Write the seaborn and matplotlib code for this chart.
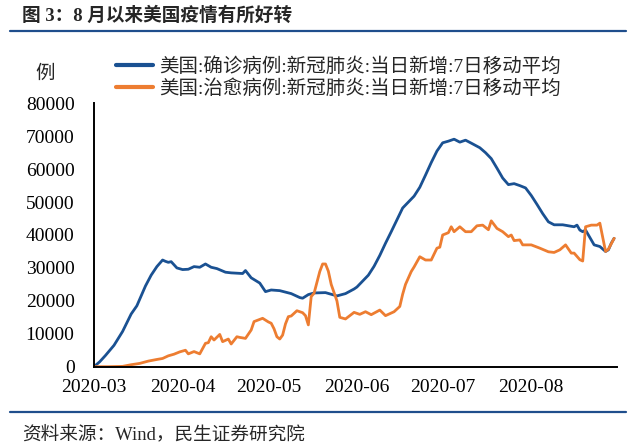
import pandas as pd
import matplotlib
matplotlib.use("Agg")
import matplotlib.pyplot as plt
import matplotlib.dates as mdates
from matplotlib.lines import Line2D
import seaborn as sns

sns.set_style("white")
plt.rcParams["font.family"] = ["Liberation Serif", "Noto Sans CJK SC"]

darkBlue = "#1a5192"
orange = "#ed7d31"
ruleBlue = "#1f4e8c"

confirmed_label = "美国:确诊病例:新冠肺炎:当日新增:7日移动平均"
recovered_label = "美国:治愈病例:新冠肺炎:当日新增:7日移动平均"

confirmed_dates = [
    "03-01", "03-03", "03-05", "03-08", "03-11", "03-14", "03-16", "03-19", "03-21", "03-23",
    "03-25", "03-26", "03-27", "03-28", "03-30", "04-01", "04-03", "04-05", "04-07", "04-09",
    "04-11", "04-13", "04-16", "04-18", "04-20", "04-22", "04-23", "04-25", "04-28", "04-30",
    "05-02", "05-05", "05-09", "05-10", "05-12", "05-13", "05-15", "05-17", "05-21", "05-25",
    "05-28", "05-31", "06-01", "06-03", "06-05", "06-07", "06-09", "06-11", "06-13", "06-15",
    "06-17", "06-19", "06-21", "06-23", "06-25", "06-27", "06-29", "07-01", "07-03", "07-05",
    "07-07", "07-09", "07-11", "07-14", "07-16", "07-18", "07-20", "07-22", "07-24", "07-26",
    "07-28", "07-30", "08-01", "08-03", "08-05", "08-07", "08-09", "08-12", "08-14", "08-16",
    "08-17", "08-18", "08-19", "08-20", "08-22", "08-23", "08-25", "08-27", "08-28", "08-29",
    "08-30",
]
confirmed = [
    0, 1500, 3400, 6500, 10700, 16000, 18500, 24500, 27800, 30400,
    32400, 32000, 31700, 31900, 30000, 29500, 29600, 30400, 30200, 31200,
    30200, 29800, 28700, 28500, 28400, 28300, 29200, 27000, 25400, 22800,
    23300, 23100, 22200, 21800, 21000, 20800, 21900, 22400, 22500, 21500,
    22200, 23600, 24200, 26000, 27800, 30500, 33800, 37500, 41000, 44600,
    48200, 50000, 51800, 54500, 58200, 62000, 65500, 68000, 68500, 69100,
    68200, 68800, 67900, 66500, 65000, 63200, 60300, 57300, 55300, 55600,
    55000, 54300, 52000, 49300, 46500, 44000, 43100, 43100, 42800, 42500,
    43000, 41500, 41000, 41500, 38500, 37000, 36500, 35000, 35500, 37500,
    39000,
]

recovered_dates = [
    "03-01", "03-06", "03-11", "03-14", "03-17", "03-20", "03-23", "03-25", "03-27", "03-29",
    "03-31", "04-02", "04-03", "04-05", "04-07", "04-08", "04-09", "04-10", "04-11", "04-12",
    "04-14", "04-15", "04-17", "04-18", "04-20", "04-21", "04-23", "04-25", "04-26", "04-29",
    "05-01", "05-02", "05-03", "05-04", "05-05", "05-06", "05-07", "05-08", "05-09", "05-11",
    "05-13", "05-14", "05-15", "05-16", "05-17", "05-19", "05-20", "05-21", "05-22", "05-23",
    "05-25", "05-26", "05-28", "05-31", "06-02", "06-04", "06-06", "06-09", "06-11", "06-14",
    "06-16", "06-17", "06-18", "06-20", "06-21", "06-23", "06-25", "06-27", "06-29", "06-30",
    "07-01", "07-03", "07-04", "07-05", "07-07", "07-09", "07-11", "07-13", "07-15", "07-17",
    "07-18", "07-20", "07-22", "07-24", "07-25", "07-26", "07-28", "07-29", "08-01", "08-04",
    "08-07", "08-09", "08-11", "08-13", "08-15", "08-16", "08-18", "08-19", "08-20", "08-22",
    "08-24", "08-25", "08-27", "08-28", "08-30",
]
recovered = [
    0, 0, 100, 600, 1000, 1700, 2200, 2500, 3300, 3800,
    4500, 5000, 3900, 4600, 3900, 5500, 7100, 7300, 9100, 8100,
    9800, 7600, 8400, 6900, 9100, 8900, 8600, 11150, 13700, 14700,
    13600, 13200, 11500, 9100, 8400, 9600, 13000, 15200, 15400, 17000,
    16400, 15500, 12700, 21300, 22300, 28900, 31200, 31200, 29000, 25000,
    20000, 15000, 14500, 16500, 15900, 16700, 15800, 17200, 15500, 16700,
    18300, 22000, 25000, 28900, 30300, 33400, 32400, 32400, 36000, 36300,
    40000, 40700, 42500, 41000, 42500, 41000, 41000, 42800, 43000, 41600,
    44300, 42000, 41000, 39500, 40000, 38300, 38500, 37000, 37000, 36000,
    34900, 34700, 35500, 37000, 34500, 34500, 32500, 32100, 42500, 43000,
    43000, 43600, 35000, 35700, 39000,
]

df = pd.concat([
    pd.DataFrame({"date": pd.to_datetime(["2020-" + d for d in confirmed_dates]),
                  "value": confirmed, "series": confirmed_label}),
    pd.DataFrame({"date": pd.to_datetime(["2020-" + d for d in recovered_dates]),
                  "value": recovered, "series": recovered_label}),
])

fig = plt.figure(figsize=(6.36, 4.46), dpi=100)
ax = fig.add_axes([94 / 636, 1 - 366.7 / 446, (617 - 94) / 636, (366.7 - 103.3) / 446])

sns.lineplot(data=df, x="date", y="value", hue="series",
             palette={confirmed_label: darkBlue, recovered_label: orange},
             linewidth=2.0, ax=ax, legend=True)

ax.set_xlim(pd.Timestamp("2020-03-01"), pd.Timestamp("2020-08-31"))
ax.set_ylim(0, 80000)
ax.set_yticks(range(0, 80001, 10000))
ax.xaxis.set_major_locator(mdates.MonthLocator())
ax.xaxis.set_major_formatter(mdates.DateFormatter("%Y-%m"))
ax.set_xlabel("")
ax.set_ylabel("")

for side in ["top", "right"]:
    ax.spines[side].set_visible(False)
for side in ["left", "bottom"]:
    ax.spines[side].set_color("black")
    ax.spines[side].set_linewidth(1.4)
ax.tick_params(axis="both", direction="out", length=4, width=1.2, color="black",
               labelsize=14, labelcolor="black")
ax.tick_params(axis="y", pad=10)
ax.tick_params(axis="x", pad=5)
ax.grid(False)

handles, labels = ax.get_legend_handles_labels()
ax.legend(handles=handles, labels=labels, loc="upper left",
          bbox_to_anchor=(116 / 636, 1 - 57 / 446), bbox_transform=fig.transFigure,
          frameon=False, fontsize=14, handlelength=1.9, handletextpad=0.3,
          labelspacing=0.2, borderpad=0, borderaxespad=0)
for line in ax.get_legend().get_lines():
    line.set_linewidth(3)

fig.text(45 / 636, 1 - 74 / 446, "例", ha="center", va="center", fontsize=14)

fig.text(22 / 636, 1 - 16 / 446, "图 3：8 月以来美国疫情有所好转", ha="left", va="center",
         fontsize=13.4, fontweight="bold")
fig.add_artist(Line2D([10 / 636, 626 / 636], [1 - 30.7 / 446] * 2, color=ruleBlue, lw=1.6))
fig.add_artist(Line2D([10 / 636, 626 / 636], [1 - 411.5 / 446] * 2, color=ruleBlue, lw=1.6))
fig.text(22 / 636, 1 - 434 / 446, "资料来源：Wind，民生证券研究院", ha="left", va="center",
         fontsize=13.4)

fig.savefig("out.png", dpi=100)
